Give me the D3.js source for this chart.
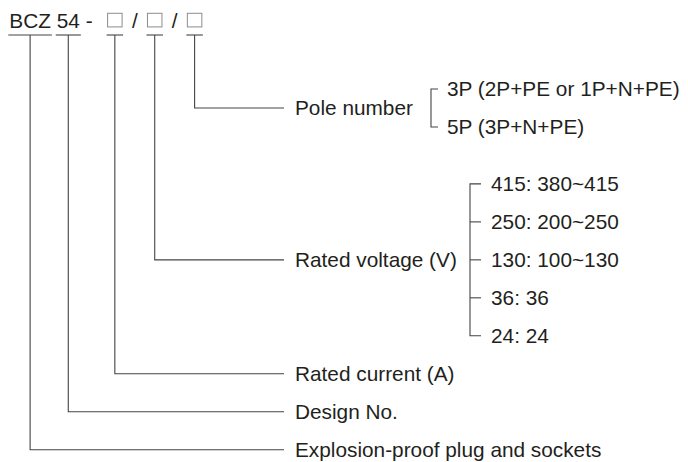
<!DOCTYPE html>
<html>
<head>
<meta charset="utf-8">
<script src="https://cdn.jsdelivr.net/npm/d3@7"></script>
<style>
body{margin:0;background:#fff}
svg{display:block}
text{font-family:Arial,"Liberation Sans",sans-serif;font-size:20.8px;fill:#231f20}
</style>
</head>
<body>
<svg width="688" height="462"></svg>
<script>
// code pieces of the type designation, "box" = blank to fill in
const codeParts=["BCZ","54","-","box","/","box","/","box"];
// what each underlined piece means (bottom to top)
const fieldLabels=["Explosion-proof plug and sockets","Design No.","Rated current (A)","Rated voltage (V)","Pole number"];
const fieldPart=[0,1,3,5,7];
const poleOptions=["3P (2P+PE or 1P+N+PE)","5P (3P+N+PE)"];
const voltageOptions=["415: 380~415","250: 200~250","130: 100~130","36: 36","24: 24"];

const svg=d3.select('svg');
const lineClr='#444', boxClr='#8c8c8c';

/******** header ********/
const baseY=27.5, underY=35;
const head=svg.append('g');
let cx=9.3;
const parts=[];
const gapAfter=(p,next)=>{
  if(next===undefined) return 0;
  if(p==='-') return 15;
  if(next==='/'||p==='/') return 9.8;
  return 5.8;
};
codeParts.forEach((p,i)=>{
  let w;
  if(p==='box'){
    w=14.5;
    head.append('rect')
      .attr('x',cx).attr('y',baseY-14.2)
      .attr('width',w).attr('height',13.6)
      .attr('fill','none').attr('stroke',boxClr).attr('stroke-width',1);
  }else{
    const t=head.append('text').attr('x',cx).attr('y',baseY).text(p);
    w=t.node().getComputedTextLength();
  }
  parts.push({x0:cx,x1:cx+w});
  cx+=w+gapAfter(p,codeParts[i+1]);
});

/******** rows ********/
const pRows=poleOptions.map((d,i)=>i);
let r=poleOptions.length+0.5;
const vRows=voltageOptions.map((d,i)=>r+i);
r+=voltageOptions.length;
const fieldRows=[r+2,r+1,r,d3.mean(vRows),d3.mean(pRows)];

const y=d3.scaleLinear().domain([0,fieldRows[0]]).range([89,449.7]);
const lineEnd=284, labelX=295;

fieldLabels.forEach((lab,i)=>{
  const p=parts[fieldPart[i]];
  const mx=(p.x0+p.x1)/2;
  const yy=y(fieldRows[i]);
  head.append('line')
    .attr('x1',p.x0-1).attr('x2',p.x1+1)
    .attr('y1',underY).attr('y2',underY)
    .attr('stroke',lineClr).attr('stroke-width',1.1);
  svg.append('path')
    .attr('d',`M${mx},${underY}V${yy}H${lineEnd}`)
    .attr('fill','none').attr('stroke',lineClr).attr('stroke-width',1.1);
  svg.append('text')
    .attr('x',labelX).attr('y',yy).attr('dy','0.36em')
    .text(lab);
});

/******** option brackets ********/
const bracket=(opts,rows,bx,tick,tx)=>{
  const g=svg.append('g');
  const y0=y(rows[0]), y1=y(rows[rows.length-1]);
  g.append('path')
    .attr('d',`M${bx+tick},${y0}H${bx}V${y1}H${bx+tick}`)
    .attr('fill','none').attr('stroke',lineClr).attr('stroke-width',1.1);
  g.selectAll('line').data(rows.slice(1,-1)).enter().append('line')
    .attr('x1',bx).attr('x2',bx+tick)
    .attr('y1',d=>y(d)).attr('y2',d=>y(d))
    .attr('stroke',lineClr).attr('stroke-width',1.1);
  g.selectAll('text').data(opts).enter().append('text')
    .attr('x',tx).attr('y',(d,i)=>y(rows[i])).attr('dy','0.36em')
    .text(d=>d);
};
bracket(poleOptions,pRows,431,7,447);
bracket(voltageOptions,vRows,470,11,491);
</script>
</body>
</html>
